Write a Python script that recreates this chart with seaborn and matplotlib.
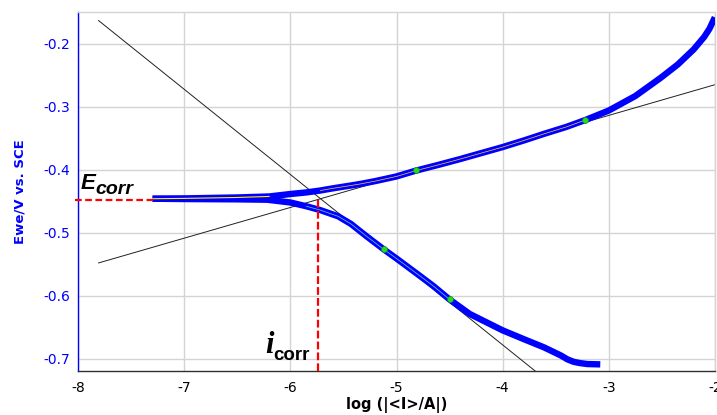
import numpy as np
import pandas as pd
import matplotlib
matplotlib.use("Agg")
import matplotlib.pyplot as plt
from matplotlib.ticker import MultipleLocator, FixedLocator
import seaborn as sns

# ---- data ----
anodic_logi = [-7.3, -7.0, -6.5, -6.2, -6.0, -5.85, -5.72, -5.6, -5.43, -5.34, -5.2, -5.0, -4.82,
               -4.6, -4.4, -4.2, -4.0, -3.8, -3.61, -3.4, -3.22, -3.0, -2.75, -2.51, -2.35,
               -2.2, -2.1, -2.05, -2.0]
anodic_E = [-0.446, -0.4455, -0.444, -0.4424, -0.4385, -0.436, -0.433, -0.4295, -0.425, -0.4225,
            -0.418, -0.4106, -0.4015, -0.392, -0.383, -0.3735, -0.364, -0.3535, -0.343, -0.332,
            -0.321, -0.306, -0.283, -0.254, -0.233, -0.209, -0.189, -0.176, -0.158]

cathodic_logi = [-7.3, -7.0, -6.5, -6.22, -6.0, -5.85, -5.72, -5.55, -5.43, -5.28, -5.12, -5.0,
                 -4.8, -4.65, -4.5, -4.31, -4.0, -3.8, -3.61, -3.45, -3.39, -3.33, -3.27, -3.2, -3.08]
cathodic_E = [-0.446, -0.4465, -0.447, -0.4476, -0.452, -0.458, -0.464, -0.474, -0.486, -0.506,
              -0.5265, -0.541, -0.566, -0.585, -0.606, -0.629, -0.655, -0.669, -0.682, -0.695,
              -0.701, -0.705, -0.707, -0.7085, -0.709]

# Tafel fit lines (end points)
tafel_c_logi = [-7.81, -3.69]
tafel_c_E = [-0.163, -0.72]
tafel_a_logi = [-7.81, -2.0]
tafel_a_E = [-0.548, -0.265]

# fit markers
fit_logi = [-4.82, -3.22, -5.12, -4.5]
fit_E = [-0.401, -0.3206, -0.5265, -0.606]

E_corr = -0.4476
log_icorr = -5.744

x_ticks = [-8, -7, -6, -5, -4, -3, -2]
y_ticks = [-0.7, -0.6, -0.5, -0.4, -0.3, -0.2]

# ---- figure ----
sns.set_style("white")
plt.rcParams['font.family'] = ['DejaVu Sans']

fig = plt.figure(figsize=(7.17, 4.15), dpi=100)
ax = fig.add_axes([0.1092, 0.1053, 0.8878, 0.8651])

blue = "#0000ff"

# grid
ax.set_xlim(-8, -2)
ax.set_ylim(-0.72, -0.15)
ax.xaxis.set_major_locator(FixedLocator(x_ticks))
ax.yaxis.set_major_locator(FixedLocator(y_ticks))
ax.xaxis.set_minor_locator(MultipleLocator(0.2))
ax.yaxis.set_minor_locator(MultipleLocator(0.02))
ax.grid(True, which='major', color='#d4d4d4', lw=1.0)
ax.set_axisbelow(True)

anod = pd.DataFrame({"logi": anodic_logi, "E": anodic_E})
cath = pd.DataFrame({"logi": cathodic_logi, "E": cathodic_E})

# Tafel lines (drawn beneath the measured curve)
sns.lineplot(x=tafel_c_logi, y=tafel_c_E, color='#202020', lw=0.7, ax=ax, zorder=2)
sns.lineplot(x=tafel_a_logi, y=tafel_a_E, color='#202020', lw=0.7, ax=ax, zorder=2)

sns.lineplot(data=cath, x="logi", y="E", sort=False, estimator=None, color=blue,
             lw=4.6, ax=ax, solid_capstyle='butt', solid_joinstyle='round', zorder=3)
sns.lineplot(data=anod, x="logi", y="E", sort=False, estimator=None, color=blue,
             lw=4.6, ax=ax, solid_capstyle='butt', solid_joinstyle='round', zorder=3)

# thin fit center lines
m1 = (anod.logi <= -3.22) & (anod.logi >= -5.72)
ax.plot(anod.logi[m1], anod.E[m1], color='#ffcc33', lw=0.5, zorder=4)
m0 = anod.logi <= -6.2
ax.plot(anod.logi[m0], anod.E[m0], color='#ffee00', lw=0.8, zorder=4)
m2 = (cath.logi >= -5.85) & (cath.logi <= -4.5)
ax.plot(cath.logi[m2], cath.E[m2], color='#66ddcc', lw=0.5, zorder=4)

# fit markers
ax.scatter(fit_logi, fit_E, s=18, color='#22dd22', edgecolor='#119911', lw=0.5, zorder=6)

# Ecorr / icorr dashed guides
ax.plot([-8.03, -7.3], [E_corr, E_corr], color='#ff0000', lw=1.6, dashes=(3, 1.6),
        clip_on=False, zorder=6)
ax.plot([log_icorr, log_icorr], [E_corr, -0.72], color='#ff0000', lw=1.6, dashes=(3.5, 1.4),
        zorder=6)

# annotations
ax.text(-7.975, -0.430, "E", fontsize=16, fontweight='bold', fontstyle='italic',
        family=['Liberation Sans', 'DejaVu Sans'], ha='left', va='baseline', color='black')
ax.text(-7.835, -0.438, "corr", fontsize=14, fontweight='bold', fontstyle='italic',
        family=['Liberation Sans', 'DejaVu Sans'], ha='left', va='baseline', color='black')
ax.text(-6.24, -0.6916, "i", fontsize=22, fontweight='bold', fontstyle='italic',
        family=['Liberation Serif', 'DejaVu Serif'], ha='left', va='baseline', color='black')
ax.text(-6.165, -0.7016, "corr", fontsize=13.5, fontweight='bold',
        family=['Liberation Sans', 'DejaVu Sans'], ha='left', va='baseline', color='black')

# spines & ticks
for s in ['top', 'right']:
    ax.spines[s].set_color('#d4d4d4')
    ax.spines[s].set_linewidth(1.0)
ax.spines['left'].set_color(blue)
ax.spines['left'].set_linewidth(1.0)
ax.spines['bottom'].set_color('#303030')
ax.spines['bottom'].set_linewidth(1.0)

ax.tick_params(axis='y', which='major', direction='out', length=3, width=1, colors=blue,
               labelsize=10, pad=3)
ax.tick_params(axis='y', which='minor', direction='out', length=1.5, width=0.8, colors=blue)
ax.tick_params(axis='x', which='major', direction='out', length=4, width=1, colors='#303030',
               labelcolor='black', labelsize=10, pad=3)
ax.tick_params(axis='x', which='minor', direction='out', length=2, width=0.8, colors='#303030')
ax.set_yticklabels([f"{v:.1f}" for v in y_ticks])
ax.set_xticklabels([str(v) for v in x_ticks])

ax.set_ylabel("Ewe/V vs. SCE", color=blue, fontsize=9.5, fontweight='bold')
ax.yaxis.set_label_coords(-0.081, 0.5)
ax.set_xlabel("log (|<I>/A|)", color='black', fontsize=10.5, fontweight='bold',
              family=['Liberation Sans Narrow', 'DejaVu Sans'])
ax.xaxis.set_label_coords(0.5, -0.072)

fig.savefig("out.png", dpi=100)
